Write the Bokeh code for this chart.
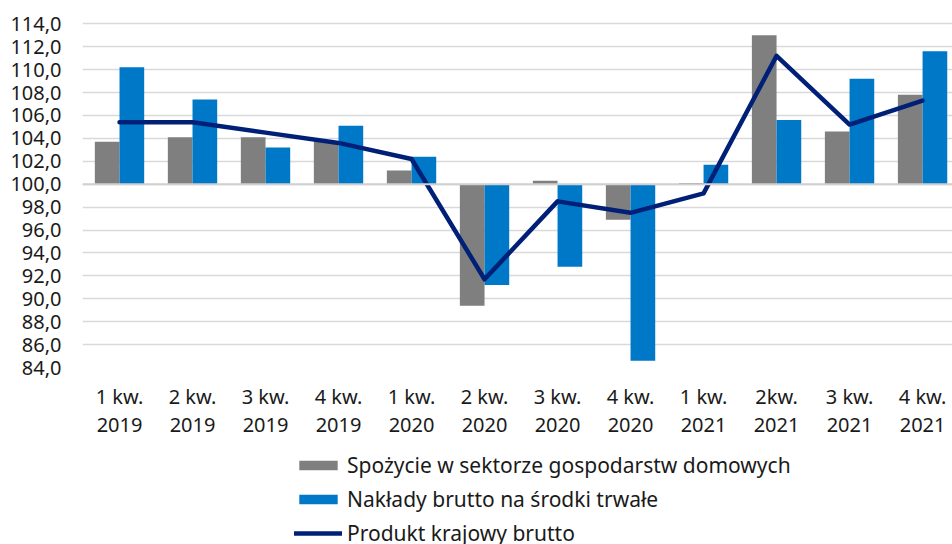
from bokeh.plotting import figure
from bokeh.layouts import column
from bokeh.models import (ColumnDataSource, Range1d, LinearAxis, FixedTicker,
                          Legend, LegendItem, Span)
from bokeh.transform import dodge
from bokeh.embed import file_html
from bokeh.resources import INLINE

quarters = ["1 kw.", "2 kw.", "3 kw.", "4 kw.", "1 kw.", "2 kw.", "3 kw.", "4 kw.",
            "1 kw.", "2kw.", "3 kw.", "4 kw."]
years = ["2019", "2019", "2019", "2019", "2020", "2020", "2020", "2020",
         "2021", "2021", "2021", "2021"]
spozycie = [103.7, 104.1, 104.1, 103.7, 101.2, 89.4, 100.3, 96.9, 100.1, 113.0, 104.6, 107.8]
naklady = [110.2, 107.4, 103.2, 105.1, 102.4, 91.2, 92.8, 84.6, 101.7, 105.6, 109.2, 111.6]
pkb = [105.4, 105.4, 104.5, 103.6, 102.2, 91.7, 98.5, 97.5, 99.2, 111.2, 105.2, 107.3]
y_ticks = [84, 86, 88, 90, 92, 94, 96, 98, 100, 102, 104, 106, 108, 110, 112, 114]
series_names = ["Spożycie w sektorze gospodarstw domowych",
                "Nakłady brutto na środki trwałe",
                "Produkt krajowy brutto"]

FONT = "Noto Sans"
GRAY = "#7F7F7F"
BLUE = "#0078C8"
NAVY = "#002078"
TXT = "#1A1A1A"

idx = list(range(len(quarters)))
src = ColumnDataSource(dict(x=idx, spozycie=spozycie, naklady=naklady, pkb=pkb))

p = figure(width=952, height=452, output_backend="svg", toolbar_location=None,
           x_range=Range1d(-0.507, 11.41), y_range=Range1d(84, 116.03),
           min_border_left=82, min_border_right=0, min_border_top=0,
           min_border_bottom=85, x_axis_location=None, y_axis_location=None)
p.outline_line_color = None
p.background_fill_color = "white"
p.border_fill_color = "white"

# grid
p.xgrid.visible = False
p.ygrid.ticker = FixedTicker(ticks=y_ticks)
p.ygrid.grid_line_color = "#D9D9D9"
p.ygrid.grid_line_width = 1.3

bw = 0.338
bar_sp = dict(fill_color=GRAY, line_color=None)
bar_nk = dict(fill_color=BLUE, line_color=None)
line_st = dict(line_color=NAVY, line_width=4.5, line_join="round", line_cap="round")

r_sp = p.vbar(x=dodge("x", -bw / 2, range=p.x_range), top="spozycie", bottom=100,
              width=bw, source=src, **bar_sp)
r_nk = p.vbar(x=dodge("x", bw / 2, range=p.x_range), top="naklady", bottom=100,
              width=bw, source=src, **bar_nk)
p.add_layout(Span(location=100, dimension="width", line_color="#D0D0D0", line_width=2))
r_ln = p.line(x="x", y="pkb", source=src, **line_st)

# y axis
yax = LinearAxis(ticker=FixedTicker(ticks=y_ticks))
yax.major_label_overrides = {t: f"{t:.1f}".replace(".", ",") for t in y_ticks}
yax.axis_line_color = None
yax.major_tick_line_color = None
yax.minor_tick_line_color = None
yax.major_tick_out = 0
yax.major_label_standoff = 21
yax.major_label_text_font = FONT
yax.major_label_text_font_size = "20px"
yax.major_label_text_color = TXT
p.add_layout(yax, "left")

# x axes (two lines of labels)
def make_xaxis(labels, standoff):
    ax = LinearAxis(ticker=FixedTicker(ticks=idx))
    ax.major_label_overrides = {i: lab for i, lab in zip(idx, labels)}
    ax.axis_line_color = None
    ax.major_tick_line_color = None
    ax.minor_tick_line_color = None
    ax.major_tick_out = 0
    ax.major_tick_in = 0
    ax.major_label_standoff = standoff
    ax.major_label_text_font = FONT
    ax.major_label_text_font_size = "20px"
    ax.major_label_text_color = TXT
    return ax

p.add_layout(make_xaxis(quarters, 15), "below")
p.add_layout(make_xaxis(years, 5), "below")

# legend holder below the chart (its frame is aligned with the chart's frame)
lg = figure(width=952, height=92, output_backend="svg", toolbar_location=None,
            x_range=Range1d(0, 1), y_range=Range1d(0, 1),
            min_border_left=0, min_border_right=0, min_border_top=0,
            min_border_bottom=0, x_axis_location=None, y_axis_location=None)
lg.outline_line_color = None
lg.grid.visible = False
hidden = ColumnDataSource(dict(x=[5.0], top=[5.0], y=[5.0]))  # outside the visible range
l_sp = lg.vbar(x="x", top="top", bottom=4.0, width=0.1, source=hidden, **bar_sp)
l_nk = lg.vbar(x="x", top="top", bottom=4.0, width=0.1, source=hidden, **bar_nk)
l_ln = lg.line(x="x", y="y", source=hidden, **line_st)

legend = Legend(items=[LegendItem(label=series_names[0], renderers=[l_sp]),
                       LegendItem(label=series_names[1], renderers=[l_nk]),
                       LegendItem(label=series_names[2], renderers=[l_ln])],
                location=(212, -3), orientation="vertical",
                glyph_width=48, glyph_height=12, label_standoff=5,
                label_height=23, spacing=6, padding=0, margin=0,
                label_text_font=FONT, label_text_font_size="21px",
                label_text_color=TXT, border_line_color=None,
                background_fill_alpha=0)
lg.add_layout(legend, "center")

layout = column(p, lg, spacing=0)
open("out.html", "w").write(file_html(layout, INLINE))
